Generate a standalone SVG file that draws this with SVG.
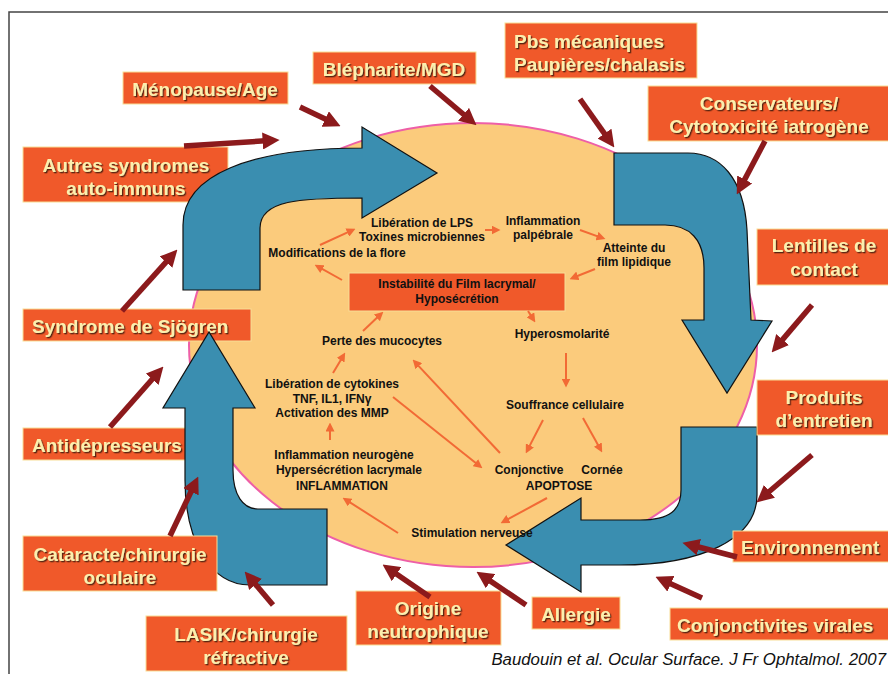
<svg xmlns="http://www.w3.org/2000/svg" width="888" height="674" viewBox="0 0 888 674">
<defs>
<style>
.box{fill:#F0592A;stroke:#F8DE96;stroke-width:1}
.lbl{font-family:"Liberation Sans",Arial,sans-serif;font-weight:bold;font-size:19px;fill:#FCEFAE;filter:url(#sh)}
.blue{fill:#3A8EB0;stroke:#111;stroke-width:1.2}
.red{stroke:#8C1A1C;stroke-width:5.5;fill:none;marker-end:url(#rh)}
.or{stroke:#F26A35;stroke-width:2;fill:none;marker-end:url(#oh)}
.t{font-family:"Liberation Sans",Arial,sans-serif;font-weight:bold;font-size:12px;fill:#111;text-anchor:middle}
</style>
<filter id="sh" x="-10%" y="-30%" width="120%" height="160%">
<feDropShadow dx="1.3" dy="1.3" stdDeviation="0.6" flood-color="#4a1a08" flood-opacity="0.9"/>
</filter>
<marker id="rh" viewBox="0 0 16 16" markerWidth="17" markerHeight="17" refX="6" refY="8" orient="auto" markerUnits="userSpaceOnUse">
<path d="M0,0 L16,8 L0,16 z" fill="#8C1A1C"/>
</marker>
<marker id="oh" viewBox="0 0 8 8" markerWidth="9" markerHeight="9" refX="4" refY="4" orient="auto" markerUnits="userSpaceOnUse">
<path d="M0,0 L8,4 L0,8 z" fill="#F26A35"/>
</marker>
</defs>
<rect width="888" height="674" fill="#fff"/>
<path d="M9,674 L9,12 L888,12" fill="none" stroke="#444" stroke-width="1.5"/>

<g id="ellipse">
<ellipse cx="473" cy="345" rx="284" ry="222" fill="#FBCB7C" stroke="#EE5FA7" stroke-width="2"/>
</g>

<g id="n-autres"><rect class="box" x="23" y="147" width="205" height="55"/><text class="lbl" x="126" y="172" text-anchor="middle">Autres syndromes</text><text class="lbl" x="126" y="195" text-anchor="middle">auto-immuns</text></g>
<g id="n-sjogren"><rect class="box" x="23" y="309" width="228" height="32"/><text class="lbl" x="32" y="333">Syndrome de Sjögren</text></g>
<g id="n-antidep"><rect class="box" x="23" y="428" width="182" height="32"/><text class="lbl" x="32" y="452">Antidépresseurs</text></g>

<g id="cycle">
<path class="blue" d="M183,290 L183,225 C183,175 250,148 362,148 L362,127 L437,173 L362,218 L362,198 C300,198 260,200 260,228 L260,290 Z"/>
<path class="blue" d="M614,153 L688,153 C720,153 744,178 747,230 L751,320 L772,321 L727,393 L682,320 L704,320 L704,268 C704,240 690,225 665,225 L614,225 Z"/>
<path class="blue" d="M681,427 L757,427 L757,495 C757,540 700,565 620,565 L581,565 L581,592 L506,545 L581,498 L581,520 L640,520 C670,520 681,510 681,490 Z"/>
<path class="blue" d="M327,509 L327,585 L250,585 C210,585 185,540 185,480 L185,408 L163,408 L209,332 L255,408 L233,408 L233,470 C233,495 243,509 258,509 Z"/>
</g>

<g id="n-menopause"><rect class="box" x="123" y="72" width="165" height="32"/><text class="lbl" x="205" y="96" text-anchor="middle">Ménopause/Age</text></g>
<g id="n-blepharite"><rect class="box" x="313" y="52" width="163" height="32"/><text class="lbl" x="394" y="76" text-anchor="middle">Blépharite/MGD</text></g>
<g id="n-pbs"><rect class="box" x="505" y="23" width="192" height="55"/><text class="lbl" x="514" y="48">Pbs mécaniques</text><text class="lbl" x="514" y="71">Paupières/chalasis</text></g>
<g id="n-conserv"><rect class="box" x="648" y="86" width="242" height="55"/><text class="lbl" x="769" y="110" text-anchor="middle">Conservateurs/</text><text class="lbl" x="769" y="133" text-anchor="middle">Cytotoxicité iatrogène</text></g>
<g id="n-lentilles"><rect class="box" x="757" y="229" width="133" height="56"/><text class="lbl" x="824" y="252" text-anchor="middle">Lentilles de</text><text class="lbl" x="824" y="276" text-anchor="middle">contact</text></g>
<g id="n-produits"><rect class="box" x="757" y="380" width="133" height="55"/><text class="lbl" x="824" y="404" text-anchor="middle">Produits</text><text class="lbl" x="824" y="427" text-anchor="middle">d’entretien</text></g>
<g id="n-env"><rect class="box" x="733" y="531" width="157" height="31"/><text class="lbl" x="741" y="554">Environnement</text></g>
<g id="n-conjvir"><rect class="box" x="670" y="608" width="220" height="32"/><text class="lbl" x="677" y="632">Conjonctivites virales</text></g>
<g id="n-allergie"><rect class="box" x="532" y="597" width="88" height="32"/><text class="lbl" x="576" y="621" text-anchor="middle">Allergie</text></g>
<g id="n-origine"><rect class="box" x="356" y="591" width="145" height="54"/><text class="lbl" x="428" y="615" text-anchor="middle">Origine</text><text class="lbl" x="428" y="638" text-anchor="middle">neutrophique</text></g>
<g id="n-lasik"><rect class="box" x="146" y="616" width="201" height="55"/><text class="lbl" x="246" y="641" text-anchor="middle">LASIK/chirurgie</text><text class="lbl" x="246" y="664" text-anchor="middle">réfractive</text></g>
<g id="n-cataracte"><rect class="box" x="23" y="536" width="194" height="55"/><text class="lbl" x="120" y="561" text-anchor="middle">Cataracte/chirurgie</text><text class="lbl" x="120" y="584" text-anchor="middle">oculaire</text></g>

<g id="n-instab"><rect x="349" y="273" width="216" height="38" fill="#F0592A" stroke="#F8DE96" stroke-width="1"/><text class="t" x="457" y="288">Instabilité du Film lacrymal/</text><text class="t" x="457" y="303">Hyposécrétion</text></g>
<g id="n-lps"><text class="t" x="422" y="227">Libération de LPS</text><text class="t" x="422" y="241">Toxines microbiennes</text></g>
<g id="n-inflpalp"><text class="t" x="543" y="225">Inflammation</text><text class="t" x="543" y="239">palpébrale</text></g>
<g id="n-atteinte"><text class="t" x="634" y="252">Atteinte du</text><text class="t" x="634" y="266">film lipidique</text></g>
<g id="n-flore"><text class="t" x="337" y="257">Modifications de la flore</text></g>
<g id="n-hyperosm"><text class="t" x="562" y="338">Hyperosmolarité</text></g>
<g id="n-perte"><text class="t" x="382" y="345">Perte des mucocytes</text></g>
<g id="n-cytok"><text class="t" x="332" y="388">Libération de cytokines</text><text class="t" x="332" y="403">TNF, IL1, IFNγ</text><text class="t" x="332" y="417">Activation des MMP</text></g>
<g id="n-souff"><text class="t" x="565" y="409">Souffrance cellulaire</text></g>
<g id="n-neuro"><text class="t" x="344" y="459">Inflammation neurogène</text><text class="t" x="349" y="474">Hypersécrétion lacrymale</text><text class="t" x="342" y="490">INFLAMMATION</text></g>
<g id="n-apop"><text class="t" x="529" y="474">Conjonctive</text><text class="t" x="602" y="474">Cornée</text><text class="t" x="559" y="490">APOPTOSE</text></g>
<g id="n-stim"><text class="t" x="472" y="537">Stimulation nerveuse</text></g>

<g id="connectors">
<line class="red" x1="300" y1="107" x2="331" y2="121.7"/>
<line class="red" x1="184" y1="146" x2="269" y2="140.6"/>
<line class="red" x1="430" y1="86" x2="468.4" y2="118.5"/>
<line class="red" x1="580" y1="99" x2="608.2" y2="138.8"/>
<line class="red" x1="765" y1="141" x2="741.7" y2="185.1"/>
<line class="red" x1="812" y1="305" x2="778.5" y2="344.4"/>
<line class="red" x1="812" y1="455" x2="764.6" y2="495.5"/>
<line class="red" x1="737" y1="557" x2="692.7" y2="545.5"/>
<line class="red" x1="702" y1="598" x2="665.1" y2="581.2"/>
<line class="red" x1="526" y1="605" x2="485.3" y2="577.6"/>
<line class="red" x1="430" y1="597" x2="391.3" y2="570.6"/>
<line class="red" x1="273" y1="605" x2="251.5" y2="579.6"/>
<line class="red" x1="170" y1="536" x2="193.7" y2="486"/>
<line class="red" x1="110" y1="427" x2="156.4" y2="374.5"/>
<line class="red" x1="122" y1="311" x2="170.3" y2="257.4"/>

<line class="or" x1="320" y1="245" x2="351.4" y2="230.7"/>
<line class="or" x1="485" y1="230" x2="496" y2="230"/>
<line class="or" x1="580" y1="230" x2="601.2" y2="237.6"/>
<line class="or" x1="595" y1="269" x2="573.7" y2="277.5"/>
<line class="or" x1="342" y1="280" x2="318.5" y2="266.9"/>
<line class="or" x1="528" y1="311" x2="532.9" y2="318.6"/>
<line class="or" x1="363" y1="331" x2="380.1" y2="314.8"/>
<line class="or" x1="566" y1="353" x2="566" y2="383"/>
<line class="or" x1="543" y1="420" x2="527.8" y2="449.4"/>
<line class="or" x1="583" y1="418" x2="600" y2="448.5"/>
<line class="or" x1="393" y1="397" x2="478.9" y2="465.5"/>
<line class="or" x1="500" y1="453" x2="415.7" y2="362.9"/>
<line class="or" x1="333" y1="373" x2="342.9" y2="356.4"/>
<line class="or" x1="330" y1="440" x2="330" y2="427"/>
<line class="or" x1="547" y1="498" x2="504.5" y2="521.1"/>
<line class="or" x1="398" y1="533" x2="346.4" y2="500.1"/>
</g>

<text x="886" y="665" text-anchor="end" font-family="'Liberation Sans',Arial,sans-serif" font-style="italic" font-size="16.8" fill="#111">Baudouin et al. Ocular Surface. J Fr Ophtalmol. 2007</text>
</svg>
